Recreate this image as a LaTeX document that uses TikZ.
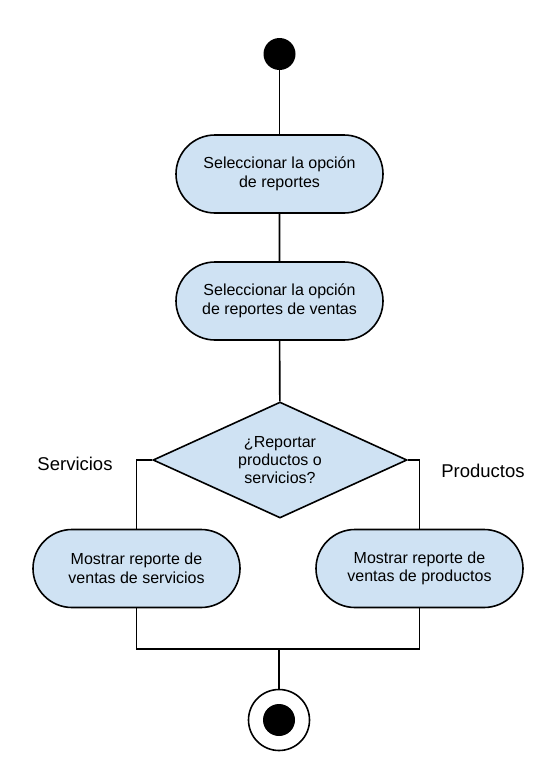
\documentclass[tikz,border=0pt]{standalone}
\usepackage{fontspec}
\setmainfont{Liberation Sans}
\usetikzlibrary{shapes.geometric,shapes.misc}
\definecolor{boxfill}{HTML}{CFE2F3}
\begin{document}
\begin{tikzpicture}[x=1pt,y=-1pt,
  act/.style={rounded rectangle, draw, line width=1.6pt, fill=boxfill,
    minimum width=207pt, minimum height=78pt, inner sep=0pt, align=center,
    font=\fontsize{16}{18.5}\selectfont},
  decision/.style={diamond, draw, line width=1.6pt, fill=boxfill, aspect=2.19,
    minimum width=254pt, minimum height=116pt, inner sep=0pt, align=center,
    font=\fontsize{16}{18}\selectfont},
  startnode/.style={circle, fill=black, minimum size=32pt, inner sep=0pt},
  endouter/.style={circle, draw, line width=1.6pt, fill=white, minimum size=61pt, inner sep=0pt},
  endinner/.style={circle, fill=black, minimum size=32pt, inner sep=0pt},
  lbl/.style={font=\fontsize{18.5}{22}\selectfont},
  conn/.style={line width=1.6pt}]
\useasboundingbox (0,0) rectangle (542,779);
\fill[white] (0,0) rectangle (542,779);

\node[startnode] (start) at (279.5,54) {};
\node[act] (a1) at (279.5,174) {Seleccionar la opción\\de reportes};
\node[act] (a2) at (279.5,301) {Seleccionar la opción\\de reportes de ventas};
\node[decision] (d) at (280,460) {¿Reportar\\productos o\\servicios?};
\node[act] (s) at (136.5,568.5) {Mostrar reporte de\\ventas de servicios};
\node[act] (p) at (419.5,568.5) {Mostrar reporte de\\ventas de productos};
\node[endouter] (endo) at (279,720) {};
\node[endinner] (endi) at (279,720) {};

\node[lbl] (ls) at (75,464) {Servicios};
\node[lbl] (lp) at (483,471) {Productos};

\coordinate (join) at (279,649);

\draw[conn] (start) -- (a1);
\draw[conn] (a1) -- (a2);
\draw[conn] (a2) -- (d);
\draw[conn] (d.west) -| (s.north);
\draw[conn] (d.east) -| (p.north);
\draw[conn] (s.south) |- (join);
\draw[conn] (p.south) |- (join);
\draw[conn] (join) -- (endo);
\end{tikzpicture}
\end{document}
